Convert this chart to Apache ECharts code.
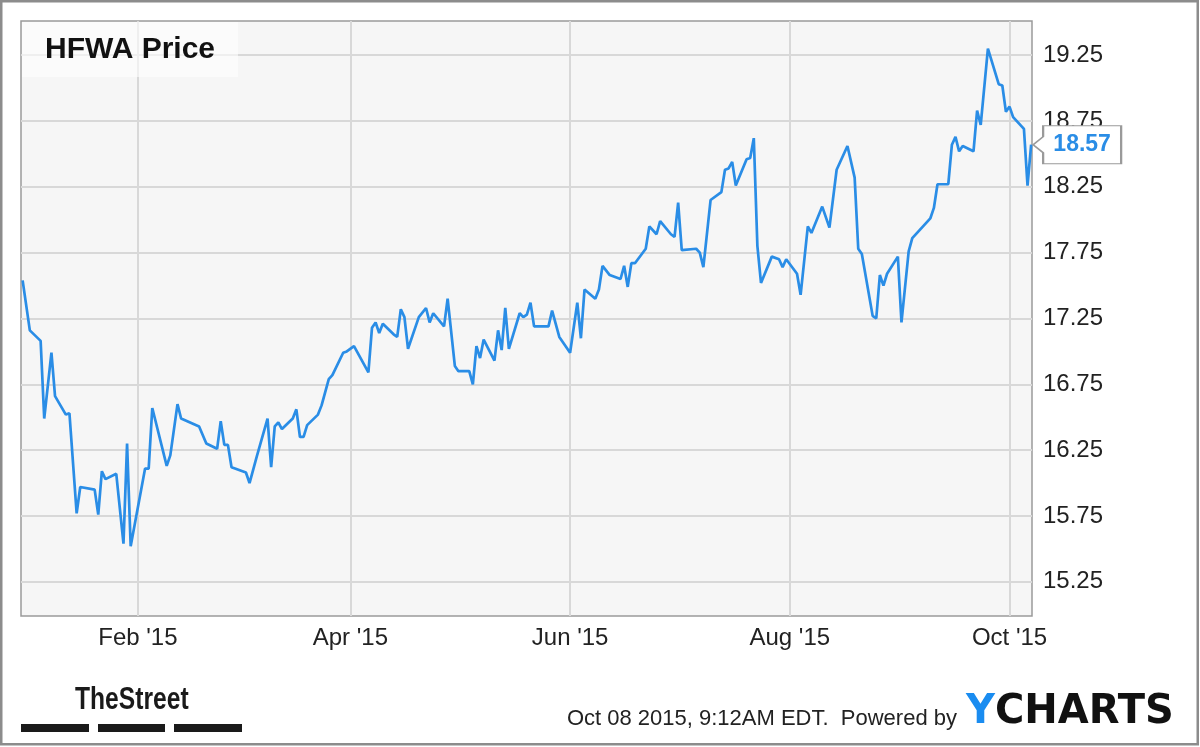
<!DOCTYPE html>
<html><head><meta charset="utf-8">
<script src="https://cdn.jsdelivr.net/npm/echarts@6/dist/echarts.min.js"></script>
<style>html,body{margin:0;padding:0;background:#fff}#c{width:1200px;height:747px}</style>
</head><body><div id="c"></div>
<script>
const titleText = 'HFWA Price';
const dates = [
'2014-12-31','2015-01-02','2015-01-05','2015-01-06','2015-01-08','2015-01-09','2015-01-12','2015-01-13','2015-01-15','2015-01-16',
'2015-01-20','2015-01-21','2015-01-22','2015-01-23','2015-01-26','2015-01-28','2015-01-29','2015-01-30','2015-02-03','2015-02-04',
'2015-02-05','2015-02-09','2015-02-10','2015-02-12','2015-02-13','2015-02-18','2015-02-20','2015-02-23','2015-02-24','2015-02-25',
'2015-02-26','2015-02-27','2015-03-03','2015-03-04','2015-03-06','2015-03-09','2015-03-10','2015-03-11','2015-03-12','2015-03-13',
'2015-03-16','2015-03-17','2015-03-18','2015-03-19','2015-03-20','2015-03-23','2015-03-24','2015-03-26','2015-03-27','2015-03-30',
'2015-03-31','2015-04-02','2015-04-06','2015-04-07','2015-04-08','2015-04-09','2015-04-10','2015-04-13','2015-04-14','2015-04-15',
'2015-04-16','2015-04-17','2015-04-20','2015-04-22','2015-04-23','2015-04-24','2015-04-27','2015-04-28','2015-04-30','2015-05-01',
'2015-05-04','2015-05-05','2015-05-06','2015-05-07','2015-05-08','2015-05-11','2015-05-12','2015-05-13','2015-05-14','2015-05-15',
'2015-05-18','2015-05-19','2015-05-20','2015-05-21','2015-05-22','2015-05-26','2015-05-27','2015-05-29','2015-06-01','2015-06-03',
'2015-06-04','2015-06-05','2015-06-08','2015-06-09','2015-06-10','2015-06-12','2015-06-15','2015-06-16','2015-06-17','2015-06-18',
'2015-06-19','2015-06-22','2015-06-23','2015-06-25','2015-06-26','2015-06-29','2015-06-30','2015-07-01','2015-07-02','2015-07-06',
'2015-07-07','2015-07-08','2015-07-10','2015-07-13','2015-07-14','2015-07-15','2015-07-16','2015-07-17','2015-07-20','2015-07-21',
'2015-07-22','2015-07-23','2015-07-24','2015-07-27','2015-07-29','2015-07-30','2015-07-31','2015-08-03','2015-08-04','2015-08-06',
'2015-08-07','2015-08-10','2015-08-12','2015-08-14','2015-08-17','2015-08-19','2015-08-20','2015-08-21','2015-08-24','2015-08-25',
'2015-08-26','2015-08-27','2015-08-28','2015-08-31','2015-09-01','2015-09-03','2015-09-04','2015-09-08','2015-09-09','2015-09-10',
'2015-09-11','2015-09-14','2015-09-15','2015-09-16','2015-09-17','2015-09-18','2015-09-21','2015-09-22','2015-09-23','2015-09-25',
'2015-09-28','2015-09-29','2015-09-30','2015-10-01','2015-10-02','2015-10-05','2015-10-06','2015-10-07'
];
const prices = [
17.54,17.16,17.08,16.49,16.99,16.66,16.52,16.53,15.77,15.97,
15.95,15.76,16.09,16.03,16.07,15.54,16.30,15.52,16.11,16.11,
16.57,16.13,16.21,16.60,16.49,16.43,16.30,16.26,16.47,16.29,
16.29,16.12,16.08,16.00,16.20,16.49,16.12,16.43,16.46,16.41,
16.49,16.56,16.35,16.35,16.44,16.52,16.59,16.79,16.82,16.99,
17.00,17.04,16.84,17.18,17.22,17.14,17.21,17.13,17.11,17.32,
17.26,17.02,17.26,17.33,17.22,17.29,17.19,17.40,16.89,16.85,
16.85,16.75,17.04,16.95,17.09,16.93,17.16,17.01,17.33,17.02,
17.29,17.26,17.28,17.37,17.19,17.19,17.31,17.11,16.99,17.37,
17.10,17.47,17.40,17.47,17.65,17.58,17.55,17.65,17.49,17.67,
17.67,17.78,17.95,17.89,17.99,17.89,17.87,18.13,17.77,17.78,
17.75,17.64,18.15,18.21,18.38,18.39,18.44,18.26,18.46,18.47,
18.62,17.80,17.52,17.72,17.70,17.64,17.70,17.59,17.43,17.95,
17.90,18.10,17.94,18.38,18.56,18.32,17.78,17.74,17.27,17.25,
17.58,17.50,17.59,17.72,17.22,17.76,17.86,17.98,18.01,18.09,
18.27,18.27,18.57,18.63,18.52,18.56,18.52,18.83,18.72,19.30,
19.03,19.02,18.82,18.86,18.78,18.69,18.26,18.57
];
const yTicks = [15.25, 15.75, 16.25, 16.75, 17.25, 17.75, 18.25, 18.75, 19.25];
const xTickDates = ['2015-02-01', '2015-04-01', '2015-06-01', '2015-08-01', '2015-10-01'];
const xTickLabels = ["Feb '15", "Apr '15", "Jun '15", "Aug '15", "Oct '15"];
const yMin = 14.99, yMax = 19.51;
const xMinStr = '2014-12-30 13:12', xMaxStr = '2015-10-07 05:45';
const footerText = 'Oct 08 2015, 9:12AM EDT.  Powered by';

function toLocal(s) {
  const [d, t] = s.split(' ');
  const [y, m, dd] = d.split('-').map(Number);
  let hh = 0, mm = 0;
  if (t) { [hh, mm] = t.split(':').map(Number); }
  return new Date(y, m - 1, dd, hh, mm).getTime();
}
const xTickVals = xTickDates.map(toLocal);
const data = dates.map((d, i) => [toLocal(d), prices[i]]);
const last = data[data.length - 1];

const chart = echarts.init(document.getElementById('c'), null, {renderer: 'canvas'});
const gridStyle = {color: '#d8d8d8', width: 2};
chart.setOption({
  animation: false,
  backgroundColor: '#ffffff',
  grid: {left: 21, top: 21, width: 1011, height: 595, show: true, backgroundColor: '#f6f6f6', borderColor: '#9a9a9a', borderWidth: 1.5},
  xAxis: {
    type: 'value', min: toLocal(xMinStr), max: toLocal(xMaxStr),
    axisLine: {show: false}, axisTick: {show: false, customValues: xTickVals},
    splitLine: {show: true, lineStyle: gridStyle},
    axisLabel: {customValues: xTickVals, margin: 10, color: '#222', fontSize: 24, fontFamily: 'Liberation Sans, Arial, sans-serif',
      formatter: v => { const i = xTickVals.indexOf(v); return i >= 0 ? xTickLabels[i] : ''; }}
  },
  yAxis: {
    type: 'value', position: 'right', min: yMin, max: yMax,
    axisLine: {show: false}, axisTick: {show: false, customValues: yTicks},
    splitLine: {show: true, lineStyle: gridStyle},
    axisLabel: {customValues: yTicks, margin: 11, color: '#222', fontSize: 24, fontFamily: 'Liberation Sans, Arial, sans-serif',
      formatter: v => v.toFixed(2)}
  },
  series: [{
    type: 'line', data: data, symbol: 'none', clip: false,
    lineStyle: {color: '#2a8de6', width: 2.7},
    markPoint: {
      silent: true,
      data: [{coord: last, value: last[1]}],
      symbol: 'path://M0,19 L10,11 L10,0 L88,0 L88,38 L10,38 L10,27 Z',
      symbolSize: [88, 38], symbolKeepAspect: false, symbolOffset: [46, 0],
      itemStyle: {color: '#ffffff', borderColor: '#9a9a9a', borderWidth: 1.5},
      label: {show: true, position: 'inside', offset: [5, 0], color: '#2a8de6', fontWeight: 'bold', fontSize: 23,
        fontFamily: 'Liberation Sans, Arial, sans-serif', formatter: p => Number(p.value).toFixed(2)}
    }
  }],
  graphic: [
    {type: 'rect', z: 50, shape: {x: 22, y: 22, width: 216, height: 55}, style: {fill: 'rgba(255,255,255,0.6)'}},
    {type: 'text', z: 51, x: 45, y: 50, style: {text: titleText, font: 'bold 30px "Liberation Sans", Arial, sans-serif', fill: '#111', verticalAlign: 'middle'}},
    {type: 'rect', z: 60, shape: {x: 1.25, y: 1.25, width: 1196.5, height: 743}, style: {fill: 'none', stroke: '#8c8c8c', lineWidth: 2.5}},
    {type: 'text', z: 51, x: 957, y: 719, style: {text: footerText, font: '22px "Liberation Sans", Arial, sans-serif', fill: '#222', align: 'right', verticalAlign: 'middle'}},
    {type: 'text', z: 51, x: 966, y: 713, style: {text: 'Y', font: 'bold 40px "DejaVu Sans", sans-serif', fill: '#1a8cf0', verticalAlign: 'middle'}},
    {type: 'text', z: 51, x: 995, y: 713, style: {text: 'CHARTS', font: 'bold 40px "DejaVu Sans", sans-serif', fill: '#111', verticalAlign: 'middle'}},
    {type: 'text', z: 51, x: 75, y: 700, scaleX: 0.77, originX: 0, style: {text: 'TheStreet', font: 'bold 32px "Liberation Sans", Arial, sans-serif', fill: '#1a1a1a', verticalAlign: 'middle'}},
    {type: 'rect', z: 51, shape: {x: 21, y: 724, width: 68, height: 8}, style: {fill: '#1a1a1a'}},
    {type: 'rect', z: 51, shape: {x: 98, y: 724, width: 67, height: 8}, style: {fill: '#1a1a1a'}},
    {type: 'rect', z: 51, shape: {x: 174, y: 724, width: 68, height: 8}, style: {fill: '#1a1a1a'}}
  ]
});
</script></body></html>
